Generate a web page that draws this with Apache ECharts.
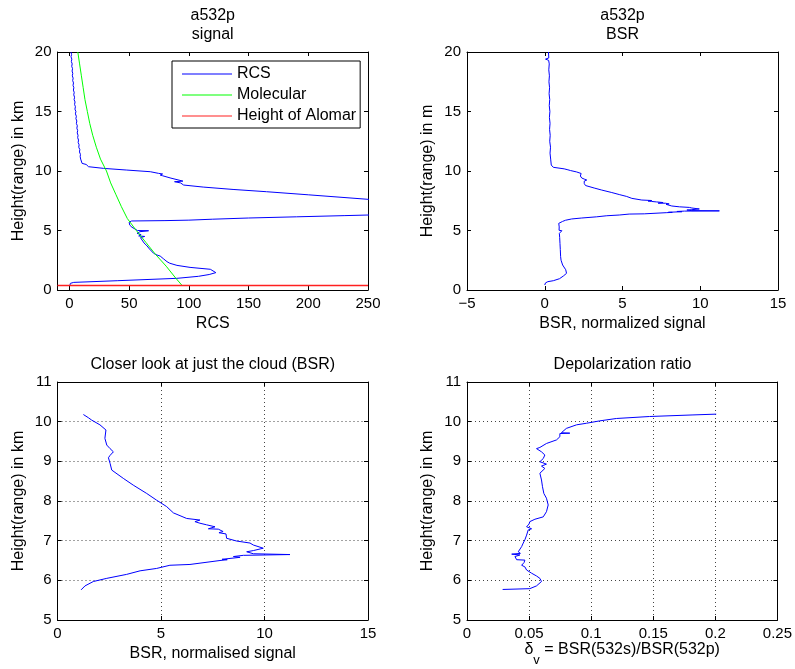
<!DOCTYPE html>
<html><head><meta charset="utf-8">
<script src="https://cdn.jsdelivr.net/npm/echarts@6/dist/echarts.min.js"></script>
<style>html,body{margin:0;padding:0;background:#fff}#c{width:795px;height:669px}</style>
</head><body><div id="c"></div>
<script>
// ---------- DATA ----------
const rcsHeight = [0.36,0.56,0.64,0.78,0.98,1.15,1.3,1.46,1.6,1.74,1.9,2.07,2.25,2.38,2.6,2.75,2.85,2.94,3.08,3.22,3.45,3.7,3.95,4.2,4.4,4.5,4.54,4.65,4.76,4.9,4.98,5.0,5.27,5.45,5.6,5.7,5.77,5.8,5.83,5.87,5.95,6.05,6.15,6.25,6.3,6.4,6.5,6.66,6.8,7.0,7.3,7.62,8.0,8.26,8.45,8.65,8.82,8.9,9.0,9.1,9.15,9.24,9.4,9.6,9.66,9.75,9.8,9.94,10.08,10.22,10.36,10.5,10.55,10.64,10.8,11.0,11.2,11.4,11.6,11.8,12.0,12.2,12.4,12.6,12.8,13.0,13.2,13.4,13.6,13.8,14.0,14.2,14.4,14.6,14.8,15.0,15.2,15.4,15.6,15.8,16.0,16.2,16.4,16.6,16.8,17.0,17.2,17.4,17.6,17.8,18.0,18.2,18.4,18.6,18.8,19.0,19.2,19.4,19.6,19.8,20.0];
const rcsValue  = [0.3,0.8,3.6,40,90,108,117,122.6,121,118,101,90,84,81.7,79,78.9,76,73.3,70.5,69.1,67,65,62.5,60.8,59.5,63,58,60,56.6,59,66.3,57,52.4,50.5,49.6,50,51,52,80,100,120,150,190,230,250,300,400,520,470,420,330,250,200,165,137,112,95.6,94,93,88,95,94,85,78,76,78,74.7,67.7,48,28.7,16,16,14,10.6,10.2,9.4,9.0,9.2,8.4,8.7,7.8,8.1,7.3,7.6,6.9,7.2,6.5,6.9,6.2,6.6,5.8,6.2,5.4,5.8,5.0,5.4,4.6,5.0,4.3,4.7,3.9,4.3,3.6,4.0,3.3,3.7,3.0,3.4,2.7,3.1,2.4,2.8,2.2,2.6,1.9,2.3,1.6,2.0,1.3,1.8,1.2];

const molHeight = [0.36,1,2,3,4,5,6,7,8,9,10,11,12,13,14,15,16,17,18,19,20];
const molValue  = [94.5,89,81,72,64,56,48.5,43.5,39,34.5,31,26,22.5,19.5,17,15,13,11.5,10,8.5,7];

const alomarHeight = 0.38;

const bsrHeight = [0.42,0.6,0.7,0.78,0.95,1.18,1.4,1.54,1.7,1.85,2.1,2.5,2.8,3.4,3.9,4.4,4.76,4.9,4.98,5.02,5.3,5.6,5.74,
  5.76,5.86,5.97,6.05,6.15,6.24,6.3,6.38,6.4,6.5,6.52,6.53,6.58,6.6,6.63,6.65,6.67,6.72,6.75,6.81,6.89,6.94,6.99,7.06,7.17,7.2,7.23,7.29,7.3,7.35,7.4,7.44,7.48,7.52,7.56,7.7,7.86,8.02,8.19,8.4,8.57,8.78,8.95,9.09,9.15,9.24,9.32,9.41,9.58,9.79,9.92,10.04,10.1,10.18,
  10.31,10.5,10.64,11.0,11.5,12.0,12.5,13.0,13.5,14.0,14.5,15.0,15.5,16.0,16.5,17.0,17.5,18.0,18.5,19.0,19.3,19.4,19.5,20.0];
const bsrValue  = [0,0.05,0.2,0.55,0.95,1.2,1.4,1.45,1.35,1.25,1.15,1.05,1.02,1.0,0.98,0.96,0.94,0.95,1.1,0.92,0.93,0.9,0.9,
  1.14,1.33,1.73,2.38,3.34,3.99,4.79,5.43,6.4,7.85,8.2,7.95,8.82,8.5,8.98,11.23,9.46,9.14,9.46,9.94,9.46,9.3,8.66,8.17,8.14,7.8,8.0,7.77,7.29,7.61,7.2,6.88,6.64,6.88,6.24,5.6,5.27,4.79,4.31,3.66,3.18,2.62,2.54,2.46,2.54,2.7,2.54,2.38,2.29,2.34,2.05,1.65,1.49,1.25,
  0.55,0.42,0.38,0.38,0.34,0.37,0.32,0.35,0.31,0.34,0.3,0.33,0.29,0.32,0.28,0.31,0.27,0.3,0.26,0.29,0.25,0.05,0.26,0.24];

const cloudBase = 5.76, cloudTop = 10.2;

const depolHeight = [5.77,5.79,5.86,5.97,6.05,6.11,6.18,6.26,6.3,6.34,6.38,6.45,6.51,6.52,6.6,6.64,6.66,6.68,6.72,6.85,6.94,7.02,7.14,7.27,7.3,7.35,7.42,7.48,7.54,7.6,7.73,7.9,8.07,8.19,8.36,8.53,8.7,8.82,8.88,8.93,8.99,9.07,9.16,9.24,9.32,9.35,9.45,9.54,9.62,9.7,9.71,9.72,9.75,9.83,9.92,9.96,10.02,10.08,10.13,10.17,10.19];
const depolValue  = [0.0287,0.0506,0.056,0.060,0.0587,0.056,0.052,0.048,0.049,0.0466,0.044,0.046,0.0466,0.040,0.0386,0.0426,0.036,0.043,0.0413,0.044,0.0453,0.0466,0.048,0.0493,0.052,0.048,0.05,0.0506,0.0547,0.0614,0.064,0.0654,0.064,0.0619,0.0608,0.060,0.0587,0.0627,0.060,0.064,0.0587,0.0614,0.0627,0.060,0.056,0.0587,0.064,0.0721,0.0748,0.0748,0.0828,0.076,0.0748,0.080,0.0882,0.0962,0.1069,0.1203,0.147,0.182,0.2007];

const rcsTicks = [0,50,100,150,200,250];
const titles = [['a532p','signal'],['a532p','BSR'],['Closer look at just the cloud (BSR)'],['Depolarization ratio']];

// ---------- CHART ----------
const FONT = '"Liberation Sans", Arial, Helvetica, sans-serif';
const grids = [
  {left:57.5, top:52, width:310.5, height:238},
  {left:467, top:52, width:311, height:238},
  {left:57.5, top:382, width:310.5, height:238},
  {left:467, top:382, width:311, height:238}
];
function zip(xs, hs){ return hs.map((h,i)=>[xs[i], h]); }

const dotted = {show:true, lineStyle:{type:[1,3], color:'#444', width:1}};
function axLine(){ return {show:true, onZero:false, lineStyle:{color:'#000', width:1}}; }
function tick(custom){ const t={show:true, inside:true, length:4, lineStyle:{color:'#000', width:1}}; if(custom) t.customValues=custom; return t; }

const xAxes=[], yAxes=[];
function addX(gi, min, max, interval, custom, name, nameGap, fmt, split, nameRich){
  const lab = {show:true, color:'#000', fontSize:15, fontFamily:FONT, margin:6};
  if (fmt) lab.formatter = fmt;
  if (custom) lab.customValues = custom;
  const b = {gridIndex:gi, type:'value', position:'bottom', min, max, axisLine:axLine(), axisTick:tick(custom), axisLabel:lab,
    splitLine: split ? dotted : {show:false}, name, nameLocation:'middle', nameGap,
    nameTextStyle:{color:'#000', fontSize:16, fontFamily:FONT}};
  if (nameRich) b.nameTextStyle.rich = nameRich;
  if (!custom) b.interval = interval;
  const t = {gridIndex:gi, type:'value', position:'top', min, max, axisLine:axLine(), axisTick:tick(custom), axisLabel:{show:false}, splitLine:{show:false}};
  if (!custom) t.interval = interval;
  xAxes.push(b, t);
}
function addY(gi, min, max, interval, name, split){
  yAxes.push({gridIndex:gi, type:'value', position:'left', min, max, interval, axisLine:axLine(), axisTick:tick(),
    axisLabel:{show:true, color:'#000', fontSize:15, fontFamily:FONT, margin:6},
    splitLine: split ? dotted : {show:false}, name, nameLocation:'middle', nameGap:31,
    nameTextStyle:{color:'#000', fontSize:16, fontFamily:FONT}});
  yAxes.push({gridIndex:gi, type:'value', position:'right', min, max, interval, axisLine:axLine(), axisTick:tick(),
    axisLabel:{show:false}, splitLine:{show:false}});
}
const minus = v => v < 0 ? '\u2212' + (-v) : String(v);
addX(0, -10, 250, 50, rcsTicks, 'RCS', 26);
addY(0, 0, 20, 5, 'Height(range) in km');
addX(1, -5, 15, 5, null, 'BSR, normalized signal', 26, minus);
addY(1, 0, 20, 5, 'Height(range) in m');
addX(2, 0, 15, 5, null, 'BSR, normalised signal', 26, null, true);
addY(2, 5, 11, 1, 'Height(range) in km', true);
addX(3, 0, 0.25, 0.05, null, '{d|δ}{s|v}{t| = BSR(532s)/BSR(532p)}', 10, v => String(Math.round(v*100)/100), true,
  {d:{fontSize:16, fontFamily:FONT, color:'#000'}, s:{fontSize:13, fontFamily:FONT, color:'#000', padding:[22,0,0,0]}, t:{fontSize:16, fontFamily:FONT, color:'#000'}});
addY(3, 5, 11, 1, 'Height(range) in km', true);

const cloudIdx = bsrHeight.map((h,i)=>i).filter(i => bsrHeight[i] >= cloudBase && bsrHeight[i] <= cloudTop);
const lineS = (name, data, gi, color, width) => ({name, type:'line', data, xAxisIndex:2*gi, yAxisIndex:2*gi,
  symbol:'none', showSymbol:false, clip:true, animation:false, lineStyle:{color, width}, itemStyle:{color}});

const series = [
  lineS('RCS', zip(rcsValue, rcsHeight), 0, '#0000ff', 1),
  lineS('Molecular', zip(molValue, molHeight), 0, '#00ff00', 1),
  lineS('Height of Alomar', [[-10, alomarHeight],[250, alomarHeight]], 0, '#ff2020', 1.6),
  lineS('BSR', zip(bsrValue, bsrHeight), 1, '#0000ff', 1),
  lineS('BSR cloud', cloudIdx.map(i => [bsrValue[i], bsrHeight[i]]), 2, '#0000ff', 1),
  lineS('Depol', zip(depolValue, depolHeight), 3, '#0000ff', 1)
];

const graphic = [];
titles.forEach((lines, gi) => {
  const g = grids[gi];
  const cx = g.left + g.width/2;
  const y0 = gi < 2 ? 15.5 : 364.5;
  lines.forEach((t, k) => graphic.push({type:'text', x:cx, y:y0 + k*19,
    style:{text:t, fill:'#000', font:'16px ' + FONT, textAlign:'center', textVerticalAlign:'middle', align:'center', verticalAlign:'middle'}}));
});

const chart = echarts.init(document.getElementById('c'), null, {renderer:'canvas'});
chart.setOption({
  animation:false,
  backgroundColor:'#fff',
  grid: grids.map(g => Object.assign({containLabel:false}, g)),
  xAxis: xAxes, yAxis: yAxes, series, graphic,
  legend: {data:['RCS','Molecular','Height of Alomar'], orient:'vertical', left:172, top:61,
    icon:'rect', itemWidth:50, itemHeight:1.2, itemGap:5, padding:[5,4,4,10], borderColor:'#000', borderWidth:1,
    backgroundColor:'#fff', selectedMode:false,
    textStyle:{color:'#000', fontSize:16, fontFamily:FONT, padding:[1,0,0,0]}}
});
</script></body></html>
